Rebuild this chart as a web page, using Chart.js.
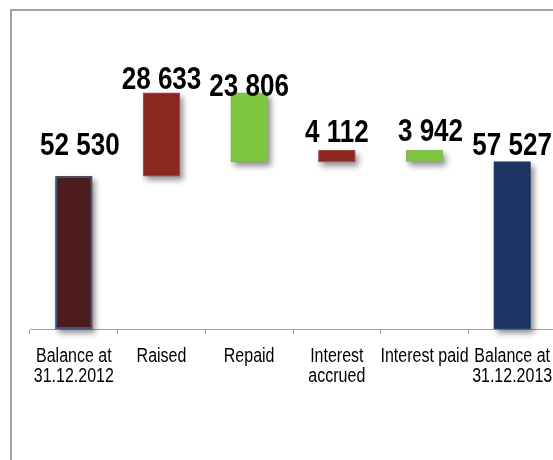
<!DOCTYPE html>
<html>
<head>
<meta charset="utf-8">
<script src="https://cdn.jsdelivr.net/npm/chart.js@4/dist/chart.umd.min.js"></script>
<style>
  html, body { margin: 0; padding: 0; background: #fff; }
  body { width: 553px; height: 460px; overflow: hidden; position: relative; }
  #frame { position: absolute; left: 10px; top: 9px; width: 800px; height: 700px;
           border-left: 2px solid #a2a2a2; border-top: 2px solid #a2a2a2; }
  #c { position: absolute; left: 0; top: 0; }
</style>
</head>
<body>
<div id="frame"></div>
<canvas id="c" width="600" height="460"></canvas>
<script>
// ---- data ----
const categories = [
  ["Balance at", "31.12.2012"],
  ["Raised"],
  ["Repaid"],
  ["Interest", "accrued"],
  ["Interest paid"],
  ["Balance at", "31.12.2013"]
];
const openingBalance = 52530;
const raised = 28633;
const repaid = 23806;
const interestAccrued = 4112;
const interestPaid = 3942;
const closingBalance = 57527;

// signed movements between opening and closing balance
const movements = [raised, -repaid, interestAccrued, -interestPaid];
const labelValues = [openingBalance, raised, repaid, interestAccrued, interestPaid, closingBalance];

// build floating ranges from the values
const ranges = [[0, openingBalance]];
let running = openingBalance;
movements.forEach(m => {
  const next = running + m;
  ranges.push([Math.min(running, next), Math.max(running, next)]);
  running = next;
});
ranges.push([0, closingBalance]);

const barColors = ['#4e1c1c', '#8b2620', '#7dc83e', '#8b2620', '#7dc83e', '#1b3464'];
const borderColors = ['#3f5585', '#9a5a55', '#8aa870', '#9a5a55', '#8aa870', '#2a3f6e'];
const borderWidths = [2, 1, 1, 1, 1, 1];

function fmt(v) {
  return String(v).replace(/\B(?=(\d{3})+(?!\d))/g, ' ');
}

function barRect(el) {
  const p = el.getProps(['x', 'y', 'base', 'width'], true);
  return { left: p.x - p.width / 2, top: Math.min(p.y, p.base), w: p.width, h: Math.abs(p.base - p.y) };
}

// soft drop shadow behind each bar
const shadowPlugin = {
  id: 'barShadow',
  beforeDatasetsDraw(chart) {
    const ctx = chart.ctx;
    const meta = chart.getDatasetMeta(0);
    ctx.save();
    ctx.shadowColor = 'rgba(0,0,0,0.45)';
    ctx.shadowBlur = 6;
    ctx.shadowOffsetX = 3;
    ctx.shadowOffsetY = 4;
    meta.data.forEach((el, i) => {
      const r = barRect(el);
      ctx.fillStyle = barColors[i];
      ctx.fillRect(r.left, r.top, r.w, r.h);
    });
    ctx.restore();
  }
};

const NARROW = 0.8;
const labelOffsets = [21, 4, -3, 8, 9, 7];
const labelShiftX = [6, 0, 0, 0, 6, 0];
const textPlugin = {
  id: 'texts',
  afterDraw(chart) {
    const ctx = chart.ctx;
    const meta = chart.getDatasetMeta(0);
    // value labels
    ctx.save();
    ctx.font = 'bold 31px "Liberation Sans", Arial, sans-serif';
    ctx.fillStyle = '#000';
    ctx.textAlign = 'center';
    ctx.textBaseline = 'alphabetic';
    meta.data.forEach((el, i) => {
      const r = barRect(el);
      const cx = r.left + r.w / 2 + labelShiftX[i];
      ctx.save();
      ctx.translate(cx, r.top - labelOffsets[i]);
      ctx.scale(0.84, 1);
      ctx.fillText(fmt(labelValues[i]), 0, 0);
      ctx.restore();
    });
    ctx.restore();
    // category labels
    const xs = chart.scales.x;
    const base = chart.chartArea.bottom;
    ctx.save();
    ctx.font = '20px "Liberation Sans", Arial, sans-serif';
    ctx.fillStyle = '#000';
    ctx.textAlign = 'center';
    ctx.textBaseline = 'alphabetic';
    categories.forEach((lines, i) => {
      const x = xs.getPixelForTick(i);
      lines.forEach((line, j) => {
        ctx.save();
        ctx.translate(x, base + 33 + j * 20);
        ctx.scale(NARROW, 1);
        ctx.fillText(line, 0, 0);
        ctx.restore();
      });
    });
    ctx.restore();
  }
};

new Chart(document.getElementById('c'), {
  type: 'bar',
  data: {
    labels: categories,
    datasets: [{
      data: ranges,
      backgroundColor: barColors,
      borderColor: borderColors,
      borderWidth: borderWidths,
      borderSkipped: false,
      categoryPercentage: 1,
      barPercentage: 0.42
    }]
  },
  options: {
    responsive: false,
    devicePixelRatio: 1,
    animation: false,
    layout: { padding: { left: 30, right: 44, top: 38, bottom: 0 } },
    plugins: { legend: { display: false }, tooltip: { enabled: false } },
    scales: {
      x: {
        grid: { display: true, drawOnChartArea: false, drawTicks: true, tickLength: 5, color: '#a0a0a0', offset: true },
        border: { display: true, color: '#a0a0a0', width: 1 },
        ticks: { color: 'rgba(0,0,0,0)', maxRotation: 0, minRotation: 0, autoSkip: false },
        afterFit(scale) { scale.height = 131; }
      },
      y: {
        display: false,
        min: 0,
        max: 100000
      }
    }
  },
  plugins: [shadowPlugin, textPlugin]
});
</script>
</body>
</html>
